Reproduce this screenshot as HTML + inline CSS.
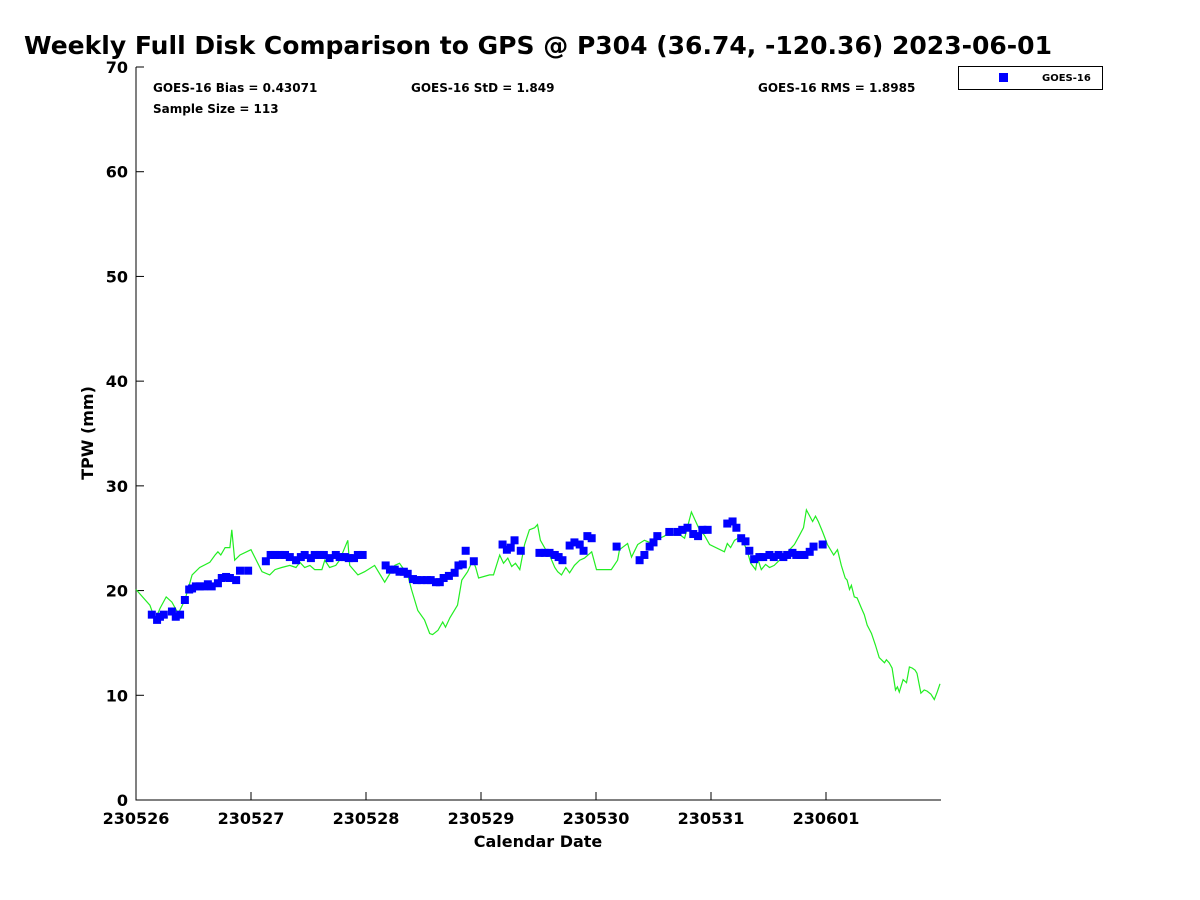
<!DOCTYPE html>
<html><head><meta charset="utf-8"><style>body{margin:0;background:#fff}svg{display:block;font-family:"DejaVu Sans","Liberation Sans",sans-serif}</style></head>
<body>
<svg id="chart" width="1200" height="900" xmlns="http://www.w3.org/2000/svg">
<rect width="1200" height="900" fill="#fff"/>
<text x="24" y="54" font-size="25" font-weight="bold" textLength="1028" lengthAdjust="spacingAndGlyphs">Weekly Full Disk Comparison to GPS @ P304 (36.74, -120.36) 2023-06-01</text>
<g id="axes"></g>
<g id="series"></g>
<g font-size="12" font-weight="bold">
<text x="153" y="92">GOES-16 Bias = 0.43071</text>
<text x="411" y="92">GOES-16 StD = 1.849</text>
<text x="758" y="92">GOES-16 RMS = 1.8985</text>
<text x="153" y="113">Sample Size = 113</text>
</g>
<g>
<rect x="958.5" y="66.5" width="144" height="23" fill="#fff" stroke="#000" stroke-width="1"/>
<rect x="999" y="73" width="9" height="9" fill="#0000ff"/>
<text x="1042" y="81" font-size="10" font-weight="bold">GOES-16</text>
</g>
<text x="538" y="847" font-size="16" font-weight="bold" text-anchor="middle">Calendar Date</text>
<text transform="translate(93,433) rotate(-90)" font-size="16" font-weight="bold" text-anchor="middle">TPW (mm)</text>
</svg>
<script>
const xTickLabels=["230526","230527","230528","230529","230530","230531","230601"];
const yTicks=[0,10,20,30,40,50,60,70];
const gpsHours=[0,2.9,4.0,5.0,6.3,7.5,8.8,10.2,11.7,13.3,15.4,16.5,17.1,17.7,18.6,19.6,20.0,20.6,21.7,24.0,26.3,27.9,29.0,30.4,32.1,33.4,34.2,35.2,36.3,37.3,38.8,39.4,40.4,41.7,42.5,44.2,44.6,46.3,47.7,49.8,51.9,54.0,55.0,56.7,57.5,58.8,60.2,61.3,61.9,63.0,64.0,64.6,65.5,67.1,68.0,69.2,69.6,70.3,70.9,71.5,73.8,74.6,75.9,76.7,77.6,78.4,79.2,80.1,81.1,82.1,83.2,83.8,84.4,85.5,86.3,87.4,88.0,88.8,89.7,90.5,91.5,92.6,93.6,95.1,96.1,98.4,99.2,100.5,100.9,102.6,103.4,104.7,106.1,107.2,108.2,109.3,110.3,111.3,112.2,113.0,114.5,115.9,117.6,118.6,119.7,122.8,123.4,124.1,124.9,126.0,126.8,127.6,128.3,129.3,129.7,130.5,131.4,132.2,133.2,134.3,135.3,136.4,137.4,138.5,139.3,139.9,141.2,141.8,142.4,143.3,144.3,145.6,146.4,147.2,148.0,148.4,148.9,149.3,149.9,150.5,151.4,152.0,152.6,153.5,154.3,155.1,156.2,156.6,157.2,157.8,158.5,158.9,159.3,160.1,160.8,161.4,162.0,162.6,163.0,163.8,164.5,165.1,165.9,166.6,167.2,167.8];
const gpsTpw=[20.1,18.6,17.2,18.3,19.4,18.9,17.8,19.1,21.5,22.2,22.7,23.4,23.7,23.4,24.1,24.1,25.8,22.9,23.4,23.9,21.8,21.5,22.0,22.2,22.4,22.2,22.7,22.2,22.4,22.0,22.0,22.9,22.2,22.4,22.9,24.8,22.4,21.5,21.8,22.4,20.8,22.4,22.6,21.5,20.1,18.1,17.2,15.9,15.8,16.2,17.0,16.5,17.4,18.6,21.0,21.8,22.2,22.9,22.2,21.2,21.5,21.5,23.4,22.6,23.1,22.3,22.6,22.0,24.4,25.8,26.0,26.3,24.8,23.9,23.4,22.2,21.8,21.5,22.2,21.7,22.4,22.9,23.1,23.7,22.0,22.0,22.0,22.9,23.9,24.5,23.2,24.4,24.8,24.6,25.0,25.0,25.2,25.6,25.3,25.5,25.0,27.5,25.8,25.3,24.4,23.7,24.5,24.1,24.8,25.1,24.6,23.7,22.6,22.0,23.1,22.0,22.5,22.2,22.4,22.9,23.3,23.9,24.4,25.3,26.0,27.7,26.6,27.1,26.6,25.6,24.4,23.4,23.9,22.4,21.2,21.0,20.1,20.5,19.4,19.3,18.3,17.7,16.7,15.9,14.8,13.6,13.1,13.4,13.1,12.6,10.5,10.8,10.3,11.5,11.2,12.7,12.6,12.4,12.1,10.2,10.5,10.4,10.1,9.6,10.3,11.1];
const goesHours=[3.3,4.4,5.0,5.8,7.5,8.3,9.2,10.2,11.1,11.7,12.5,13.3,14.2,15.0,15.8,17.1,17.9,18.8,19.6,20.9,21.7,23.4,27.1,28.1,29.0,30.0,31.1,32.1,33.4,34.4,35.2,36.5,37.3,38.4,39.2,40.4,41.7,42.5,43.6,44.4,45.5,46.3,47.3,52.1,53.0,54.0,55.0,55.9,56.7,57.8,58.6,59.6,60.7,61.5,62.6,63.4,64.2,65.3,66.5,67.3,68.2,68.8,70.5,76.5,77.4,78.2,79.0,80.3,84.2,85.3,86.3,87.4,88.2,89.0,90.5,91.5,92.6,93.4,94.2,95.1,100.3,105.1,106.1,107.2,108.0,108.8,111.3,113.0,114.0,115.1,116.3,117.3,118.2,119.3,123.4,124.5,125.3,126.3,127.2,128.0,129.0,130.1,130.9,132.2,133.1,134.1,135.1,135.9,137.0,137.8,138.7,139.5,140.6,141.4,143.3];
const goesTpw=[17.7,17.2,17.5,17.7,18.0,17.5,17.7,19.1,20.1,20.2,20.4,20.4,20.4,20.6,20.4,20.7,21.2,21.3,21.2,21.0,21.9,21.9,22.8,23.4,23.4,23.4,23.4,23.2,22.9,23.2,23.4,23.1,23.4,23.4,23.4,23.1,23.4,23.2,23.2,23.1,23.1,23.4,23.4,22.4,22.0,22.0,21.8,21.8,21.6,21.1,21.0,21.0,21.0,21.0,20.8,20.8,21.2,21.4,21.7,22.4,22.5,23.8,22.8,24.4,23.9,24.1,24.8,23.8,23.6,23.6,23.6,23.4,23.2,22.9,24.3,24.6,24.4,23.8,25.2,25.0,24.2,22.9,23.4,24.2,24.6,25.2,25.6,25.6,25.8,26.0,25.4,25.2,25.8,25.8,26.4,26.6,26.0,25.0,24.7,23.8,23.0,23.2,23.2,23.4,23.2,23.4,23.2,23.4,23.6,23.4,23.4,23.4,23.7,24.2,24.4];
const NS="http://www.w3.org/2000/svg";
const X0=136,X1=941,Y0=800,Y1=67,HMAX=168;
const xs=h=>X0+(X1-X0)*h/HMAX;
const ys=v=>Y0-(Y0-Y1)*v/70;
function mk(t,a,p){const e=document.createElementNS(NS,t);for(const k in a)e.setAttribute(k,a[k]);p.appendChild(e);return e;}
const axes=document.getElementById('axes'),ser=document.getElementById('series');
const ax=mk('path',{d:`M${X0},${Y1}V${Y0}H${X1}`,fill:'none',stroke:'#000','stroke-width':1},axes);


yTicks.forEach(v=>{const y=ys(v);
 const l=mk('line',{x1:X0,x2:X0+8,y1:y,y2:y,stroke:'#000'},axes);
 
 
 const t=mk('text',{x:X0-8,y:y+6,'font-size':16,'font-weight':'bold','text-anchor':'end'},axes);t.textContent=v;
 
 });
xTickLabels.forEach((s,i)=>{const x=xs(i*24);
 const l=mk('line',{x1:x,x2:x,y1:Y0,y2:Y0-8,stroke:'#000'},axes);
 
 
 const t=mk('text',{x:x,y:824,'font-size':16,'font-weight':'bold','text-anchor':'middle'},axes);t.textContent=s;
 
 });
const line=mk('polyline',{points:gpsHours.map((h,i)=>xs(h).toFixed(1)+','+ys(gpsTpw[i]).toFixed(1)).join(' '),fill:'none',stroke:'#22ee22','stroke-width':1.2},ser);


goesHours.forEach((h,i)=>{const r=mk('rect',{x:xs(h)-4,y:ys(goesTpw[i])-4,width:8,height:8,fill:'#0000ff'},ser);
 
 });
</script>
</body></html>
